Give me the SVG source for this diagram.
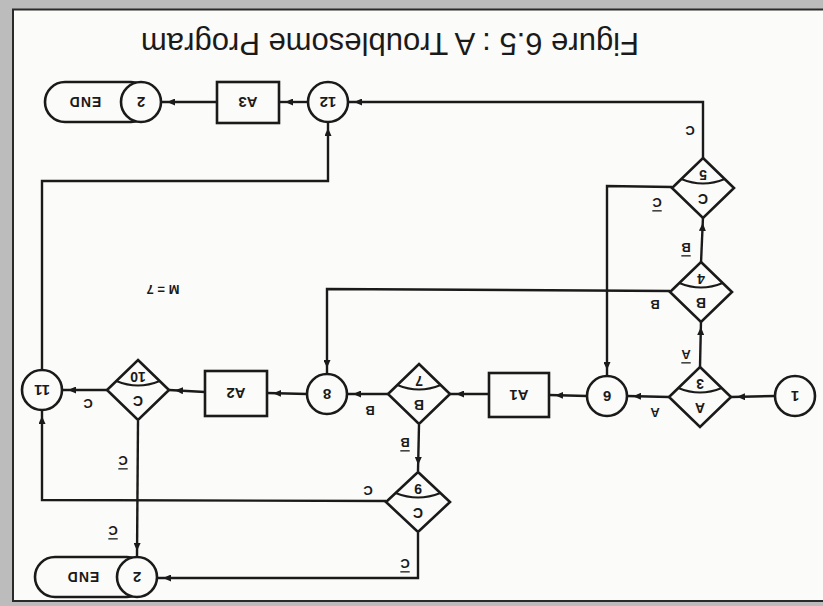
<svg xmlns="http://www.w3.org/2000/svg" width="823" height="606" viewBox="0 0 823 606">
<style>
.ln{fill:none;stroke:#1a1a1a;stroke-width:2.4;}
.nd{fill:#fbfbf9;stroke:#1a1a1a;stroke-width:2.6;}
.arc{fill:none;stroke:#1a1a1a;stroke-width:2;}
.t{font-family:"Liberation Sans",Arial,sans-serif;font-weight:bold;fill:#1a1a1a;text-anchor:middle;dominant-baseline:central;}
.n{font-size:15px;}
.d{font-size:14px;}
.e{font-size:13px;}
.ob{text-decoration:overline;}
</style>
<defs>
<marker id="ar" markerUnits="userSpaceOnUse" markerWidth="16" markerHeight="7" refX="14" refY="3.5" orient="auto">
<path d="M0,0 L8,3.5 L0,7 z" fill="#1a1a1a"/>
</marker>
</defs>
<rect x="0" y="0" width="823" height="606" fill="#bcbcbc"/>
<rect x="13" y="9" width="812" height="592" fill="#fbfbf9"/>
<path d="M13,602 V9.5 H823 M13,601 H823" fill="none" stroke="#2a2a2a" stroke-width="2"/>

<text class="t" x="390" y="51" font-size="31" style="font-weight:normal;dominant-baseline:auto" transform="rotate(180 390 42)">Figure 6.5 : A Troublesome Program</text>

<g id="connectors">
<path class="ln" marker-end="url(#ar)" d="M775,396 L731,397"/>
<path class="ln" marker-end="url(#ar)" d="M669,397 L627,396"/>
<path class="ln" marker-end="url(#ar)" d="M587,396 L549,395"/>
<path class="ln" marker-end="url(#ar)" d="M489,394 L450,394"/>
<path class="ln" marker-end="url(#ar)" d="M388,394 L347,394"/>
<path class="ln" marker-end="url(#ar)" d="M307,394 L267,393"/>
<path class="ln" marker-end="url(#ar)" d="M205,392 L169,390"/>
<path class="ln" marker-end="url(#ar)" d="M107,390 L62,390"/>
<path class="ln" marker-end="url(#ar)" d="M700,367 L701,321"/>
<path class="ln" marker-end="url(#ar)" d="M701,263 L703,217"/>
<path class="ln" marker-end="url(#ar)" d="M670,291 L327,289 L327,374"/>
<path class="ln" marker-end="url(#ar)" d="M672,187 L607,186 L607,376"/>
<path class="ln" marker-end="url(#ar)" d="M703,158 L703,102 L348,102"/>
<path class="ln" marker-end="url(#ar)" d="M308,102 L279,102"/>
<path class="ln" marker-end="url(#ar)" d="M217,102 L161,102"/>
<path class="ln" marker-end="url(#ar)" d="M42,370 L42,181 L328,181 L328,122"/>
<path class="ln" marker-end="url(#ar)" d="M419,425 L418,471"/>
<path class="ln" marker-end="url(#ar)" d="M386,501 L42,500 L42,410"/>
<path class="ln" marker-end="url(#ar)" d="M418,533 L418,578 L157,578"/>
<path class="ln" marker-end="url(#ar)" d="M138,421 L137,557"/>
</g>

<g id="n1"><circle class="nd" cx="795" cy="396" r="20"/><text class="t n" x="795" y="396" transform="rotate(180 795 396)">1</text></g>

<g id="n3"><path class="nd" d="M700,367 L731,397 L700,427 L669,397 Z"/><path class="arc" d="M678.3,388 Q700,397 721.7,388"/><text class="t d" x="700" y="384" transform="rotate(180 700 384)">3</text><text class="t d" x="700" y="408" transform="rotate(180 700 408)">A</text></g>

<g id="n6"><circle class="nd" cx="607" cy="396" r="20"/><text class="t n" x="607" y="396" transform="rotate(180 607 396)">6</text></g>

<g id="nA1"><rect class="nd" x="489" y="373" width="60" height="44"/><text class="t n" x="519" y="395" transform="rotate(180 519 395)">A1</text></g>

<g id="n7"><path class="nd" d="M419,364 L450,394 L419,424 L388,394 Z"/><path class="arc" d="M397.3,385 Q419,394 440.7,385"/><text class="t d" x="419" y="381" transform="rotate(180 419 381)">7</text><text class="t d" x="419" y="405" transform="rotate(180 419 405)">B</text></g>

<g id="n8"><circle class="nd" cx="327" cy="394" r="20"/><text class="t n" x="327" y="394" transform="rotate(180 327 394)">8</text></g>

<g id="nA2"><rect class="nd" x="205" y="371" width="62" height="45"/><text class="t n" x="236" y="393" transform="rotate(180 236 393)">A2</text></g>

<g id="n10"><path class="nd" d="M138,360 L169,390 L138,420 L107,390 Z"/><path class="arc" d="M116.3,381 Q138,390 159.7,381"/><text class="t d" x="138" y="377" transform="rotate(180 138 377)">10</text><text class="t d" x="138" y="401" transform="rotate(180 138 401)">C</text></g>

<g id="n11"><circle class="nd" cx="42" cy="390" r="20"/><text class="t n" x="42" y="390" transform="rotate(180 42 390)">11</text></g>

<g id="n4"><path class="nd" d="M701,262 L732,292 L701,322 L670,292 Z"/><path class="arc" d="M679.3,283 Q701,292 722.7,283"/><text class="t d" x="701" y="279" transform="rotate(180 701 279)">4</text><text class="t d" x="701" y="303" transform="rotate(180 701 303)">B</text></g>

<g id="n5"><path class="nd" d="M703,158 L734,188 L703,218 L672,188 Z"/><path class="arc" d="M681.3,179 Q703,188 724.7,179"/><text class="t d" x="703" y="175" transform="rotate(180 703 175)">5</text><text class="t d" x="703" y="199" transform="rotate(180 703 199)">C</text></g>

<g id="n9"><path class="nd" d="M418,472 L450,502 L418,532 L386,502 Z"/><path class="arc" d="M395.6,493 Q418,502 440.4,493"/><text class="t d" x="418" y="489" transform="rotate(180 418 489)">9</text><text class="t d" x="418" y="513" transform="rotate(180 418 513)">C</text></g>

<g id="n12"><circle class="nd" cx="328" cy="102" r="20"/><text class="t n" x="328" y="102" transform="rotate(180 328 102)">12</text></g>

<g id="nA3"><rect class="nd" x="217" y="82" width="62" height="41"/><text class="t n" x="248" y="102" transform="rotate(180 248 102)">A3</text></g>

<g id="end_top"><rect class="nd" x="45" y="82" width="106" height="40" rx="20"/><circle class="nd" cx="141" cy="102" r="20"/><text class="t n" x="141" y="102" transform="rotate(180 141 102)">2</text><text class="t d" x="85" y="102" letter-spacing="1" transform="rotate(180 85 102)">END</text></g>

<g id="end_bottom"><rect class="nd" x="35" y="557" width="112" height="40" rx="20"/><circle class="nd" cx="137" cy="577" r="20"/><text class="t n" x="137" y="577" transform="rotate(180 137 577)">2</text><text class="t d" x="83" y="577" letter-spacing="1" transform="rotate(180 83 577)">END</text></g>

<g id="labels">
<text class="t e" x="655" y="412" transform="rotate(180 655 412)">A</text>
<text class="t e ob" x="686" y="354" transform="rotate(180 686 354)">A</text>
<text class="t e" x="655" y="304" transform="rotate(180 655 304)">B</text>
<text class="t e ob" x="686" y="247" transform="rotate(180 686 247)">B</text>
<text class="t e ob" x="657" y="202" transform="rotate(180 657 202)">C</text>
<text class="t e" x="690" y="130" transform="rotate(180 690 130)">C</text>
<text class="t e" x="370" y="410" transform="rotate(180 370 410)">B</text>
<text class="t e ob" x="405" y="442" transform="rotate(180 405 442)">B</text>
<text class="t e" x="368" y="490" transform="rotate(180 368 490)">C</text>
<text class="t e ob" x="405" y="563" transform="rotate(180 405 563)">C</text>
<text class="t e" x="88" y="403" transform="rotate(180 88 403)">C</text>
<text class="t e ob" x="123" y="460" transform="rotate(180 123 460)">C</text>
<text class="t e ob" x="113" y="530" transform="rotate(180 113 530)">C</text>
<text class="t e" x="163" y="289" font-size="12" transform="rotate(180 163 289)">M = 7</text>
</g>
</svg>
